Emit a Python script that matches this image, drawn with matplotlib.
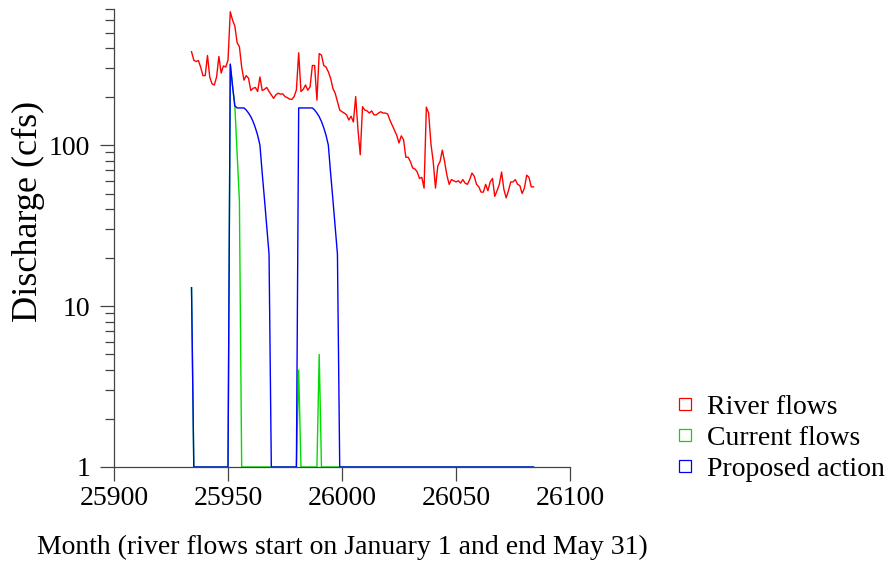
import numpy as np
import matplotlib
matplotlib.use("Agg")
from matplotlib import pyplot as plt
from matplotlib.lines import Line2D

plt.rcParams['font.family'] = ['Liberation Serif', 'DejaVu Serif']

# daily values, Jan 1 (day 25934) .. May 31 (day 26084)
start_day = 25934

river = [380, 337, 330, 335, 305, 270, 270, 360, 264, 240, 236, 265, 355, 280, 310, 305, 337,
         673, 597, 548, 432, 408, 305, 253, 270, 260, 218, 225, 228, 215, 265, 218, 222, 228, 215,
         205, 195, 205, 210, 207, 208, 200, 197, 193, 192, 200, 220, 374,
         215, 222, 236, 219, 230, 312, 312, 190, 370, 362, 312, 305, 285, 260, 225, 210, 186, 165,
         161, 158, 154, 143, 151, 139, 200, 125, 87, 173, 165, 163, 158, 163, 154, 154, 158, 161,
         158, 158, 156, 143, 133, 124, 115, 103, 114, 108, 84, 84, 79, 72, 71, 68, 62, 63, 54,
         172, 158, 102, 79, 54, 74, 79, 93, 79, 65, 57, 61, 60, 59, 60, 58, 61, 58, 57, 61, 67,
         64, 57, 55, 51, 51, 57, 52, 59, 62, 48, 52, 57, 68, 53, 47, 52, 59, 59, 61, 57, 56, 50,
         54, 65, 63, 55, 55]

current = ([13] + [1] * 16 + [318, 232, 175, 90, 45] + [1] * 25 + [4] + [1] * 8 + [5]
           + [1] * 94)

proposed = ([13] + [1] * 16
            + [318, 232, 175, 170, 170, 170, 170, 165, 158, 150, 140, 128, 115, 100, 67, 46, 31, 21]
            + [1] * 12
            + [170, 170, 170, 170, 170, 170, 170, 165, 158, 150, 140, 128, 115, 100, 67, 46, 31, 21]
            + [1] * 86)

days = np.arange(start_day, start_day + len(river))

labels = ["River flows", "Current flows", "Proposed action"]
colors = ["#ff0000", "#00dd00", "#0000ff"]

fig = plt.figure(figsize=(8.87, 5.61), dpi=100)
ax = fig.add_axes([114 / 887, 1 - 467 / 561, 456 / 887, 458 / 561])

ax.plot(days, river, color=colors[0], lw=1.0)
ax.plot(days, current, color=colors[1], lw=1.0)
ax.plot(days, proposed, color=colors[2], lw=1.0)

ax.set_yscale("log")
ax.set_ylim(1, 700)
ax.set_xlim(25900, 26100)
ax.set_xticks([25900, 25950, 26000, 26050, 26100])
ax.set_yticks([1, 10, 100])
ax.set_yticklabels(["1", "10", "100"])
ax.xaxis.set_major_formatter(matplotlib.ticker.FormatStrFormatter("%d"))

for s in ["top", "right"]:
    ax.spines[s].set_visible(False)
for s in ["left", "bottom"]:
    ax.spines[s].set_color("#444444")
    ax.spines[s].set_linewidth(0.9)

ax.tick_params(which="major", length=10, width=0.9, color="#444444", labelsize=20)
ax.tick_params(which="minor", length=6.5, width=0.9, color="#444444")
ax.tick_params(axis="x", pad=4)
ax.tick_params(axis="y", pad=7)

ax.set_xlabel("Month (river flows start on January 1 and end May 31)", fontsize=20, labelpad=17)
ax.set_ylabel("Discharge (cfs)", fontsize=26)
ax.yaxis.set_label_coords(-0.151, 0.559)

handles = [Line2D([], [], marker="s", ms=9, mfc="none", mec=c, mew=0.9, ls="none") for c in colors]
fig.legend(handles, labels, loc="center left", bbox_to_anchor=(0.760, 0.2185), frameon=False,
           fontsize=20, borderpad=0, borderaxespad=0, handletextpad=0.4, labelspacing=0.2,
           handlelength=0.8)

fig.savefig("out.png", dpi=100)
